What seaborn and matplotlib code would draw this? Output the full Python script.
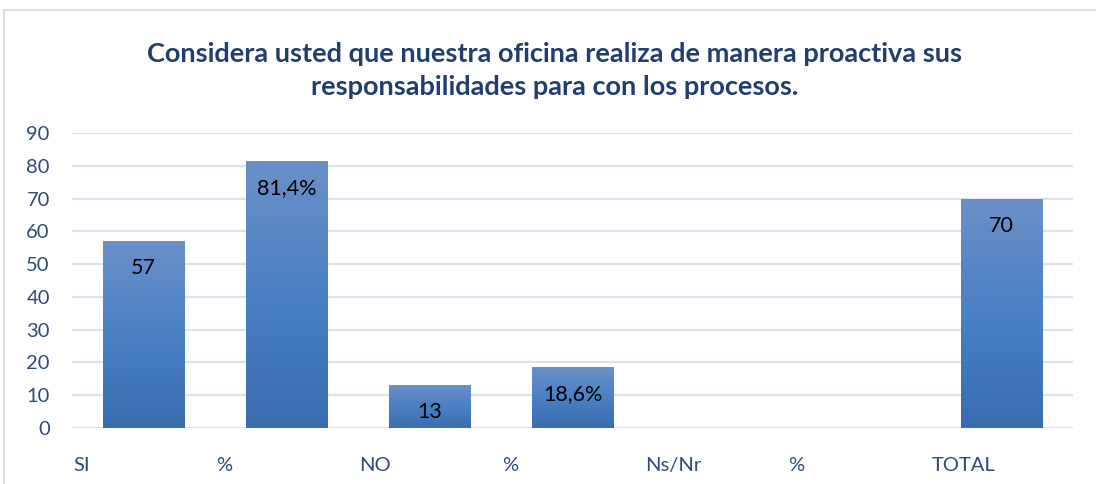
import numpy as np
import pandas as pd
import matplotlib
matplotlib.use("Agg")
import matplotlib.pyplot as plt
import matplotlib.patches as mpatches
from matplotlib.colors import LinearSegmentedColormap
import seaborn as sns

# Data
categories = ["SI", "%", "NO", "% ", "Ns/Nr", "%  ", "TOTAL"]
tick_labels = ["SI", "%", "NO", "%", "Ns/Nr", "%", "TOTAL"]
values = [57, 81.4, 13, 18.6, 0, 0, 70]
value_labels = ["57", "81,4%", "13", "18,6%", "", "", "70"]
title = ("Considera usted que nuestra oficina realiza de manera proactiva sus\n"
         "responsabilidades para con los procesos.")

df = pd.DataFrame({"cat": categories, "val": values})

sns.set_theme(style="white")
plt.rcParams['font.family'] = ['Lato', 'DejaVu Sans']

fig = plt.figure(figsize=(10.96, 4.84), dpi=100)
ax = fig.add_axes([72/1096, 56/484, 1001/1096, 295/484])

# chart border
fig.patches.append(mpatches.Rectangle((4/1096, -0.05), 1.2, (484-10)/484 + 0.05,
                                      transform=fig.transFigure, fill=False,
                                      edgecolor="#D6DFEE", linewidth=1.5))

sns.barplot(data=df, x="cat", y="val", order=categories, width=0.57,
            color="#4A7EC0", ax=ax, zorder=3)

# gradient fill on the bars
cmap = LinearSegmentedColormap.from_list("grad", ["#3A6DB0", "#4A80C4", "#6B90C8"])
grad = np.linspace(0, 1, 256).reshape(-1, 1)
for p in ax.patches:
    h = p.get_height()
    if h <= 0:
        continue
    x0 = p.get_x()
    w = p.get_width()
    im = ax.imshow(grad, cmap=cmap, aspect="auto", origin="lower",
                   extent=[x0, x0 + w, 0, h], zorder=3)
    im.set_clip_path(p)
    p.set_facecolor("none")
    p.set_edgecolor("none")

for i, (v, lab) in enumerate(zip(values, value_labels)):
    if lab:
        ax.annotate(lab, (i, v), xytext=(0, -19.5), textcoords="offset points",
                    ha="center", va="center", fontsize=15.5, color="black", zorder=5)

ax.set_xlim(-0.5, 6.5)
ax.set_ylim(0, 90)
ax.set_yticks(range(0, 91, 10))
ax.yaxis.grid(True, color="#D9E2F0", linewidth=1.6, zorder=0)
ax.set_axisbelow(True)
for s in ax.spines.values():
    s.set_visible(False)

ax.set_xticks([i - 0.49 for i in range(len(categories))])
ax.set_xticklabels(tick_labels, ha="left")
ax.tick_params(axis="x", length=0, pad=21, labelsize=14.5, labelcolor="#2C4A7A")
ax.tick_params(axis="y", length=0, pad=16, labelsize=14.5, labelcolor="#2C4A7A")
for t in ax.get_yticklabels():
    t.set_horizontalalignment("right")
ax.set_xlabel("")
ax.set_ylabel("")

fig.text(0.506, 0.855, title, ha="center", va="center", fontsize=19.5,
         fontweight="bold", color="#1F3F70", linespacing=1.45)

fig.savefig("out.png", dpi=100)
